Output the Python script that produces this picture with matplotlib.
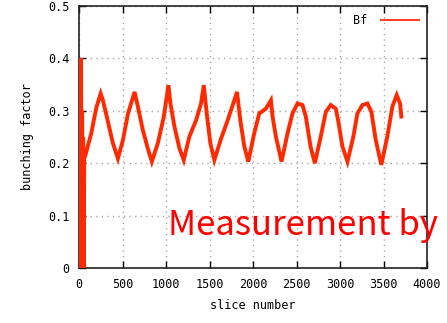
import matplotlib
matplotlib.use("Agg")
import matplotlib.pyplot as plt

# --- data ---
slice_no = [0, 6, 12, 18, 24, 30, 36, 42, 48, 54, 60, 70,
            141, 199, 249, 275, 333, 390, 447,
            505, 562, 639, 669, 734, 791, 837,
            906, 975, 1028, 1051, 1097, 1155, 1204,
            1269, 1346, 1403, 1434, 1472, 1510, 1556,
            1633, 1709, 1767, 1816, 1854, 1900, 1946,
            2014, 2072, 2148, 2206, 2225, 2263, 2328,
            2397, 2454, 2512, 2569, 2607, 2661, 2711,
            2779, 2837, 2894, 2952, 2978, 3028, 3086,
            3154, 3200, 3258, 3315, 3361, 3411, 3475,
            3544, 3602, 3652, 3690, 3705]
bunching = [0.37, 0.0, 0.35, 0.0, 0.40, 0.0, 0.30, 0.0, 0.25, 0.0, 0.21, 0.213,
            0.257, 0.306, 0.333, 0.320, 0.279, 0.238, 0.209,
            0.244, 0.294, 0.336, 0.314, 0.263, 0.228, 0.203,
            0.238, 0.289, 0.349, 0.314, 0.270, 0.228, 0.206,
            0.251, 0.282, 0.314, 0.349, 0.289, 0.238, 0.206,
            0.247, 0.282, 0.311, 0.336, 0.282, 0.232, 0.203,
            0.257, 0.295, 0.304, 0.320, 0.289, 0.251, 0.203,
            0.257, 0.295, 0.314, 0.311, 0.289, 0.232, 0.200,
            0.251, 0.298, 0.311, 0.304, 0.282, 0.232, 0.203,
            0.251, 0.295, 0.311, 0.314, 0.298, 0.244, 0.197,
            0.251, 0.308, 0.330, 0.314, 0.289]
x_ticks = [0, 500, 1000, 1500, 2000, 2500, 3000, 3500, 4000]
y_ticks = [0, 0.1, 0.2, 0.3, 0.4, 0.5]
y_tick_labels = ["0", "0.1", "0.2", "0.3", "0.4", "0.5"]
series_name = "Bf"
x_label = "slice number"
y_label = "bunching factor"
overlay_text = "Measurement by"

RED = "#ff2a00"
mono = "DejaVu Sans Mono"

fig = plt.figure(figsize=(4.47, 3.23), dpi=100)
ax = fig.add_axes([79 / 447, 55 / 323, 348 / 447, 262 / 323])

ax.plot(slice_no, bunching, color=RED, lw=2.8, solid_joinstyle="miter",
        label=series_name, zorder=3)

ax.set_xlim(0, 4000)
ax.set_ylim(0, 0.5)
ax.set_xticks(x_ticks)
ax.set_yticks(y_ticks)
ax.set_yticklabels(y_tick_labels)
ax.tick_params(direction="in", length=5, width=1, top=True, right=True,
               labelsize=8.5, pad=7)
for lab in ax.get_xticklabels() + ax.get_yticklabels():
    lab.set_fontfamily(mono)
ax.grid(True, color="#a8a8a8", linestyle=(0, (1, 3)), linewidth=1)
for s in ax.spines.values():
    s.set_linewidth(1.2)
    s.set_color("#222222")

ax.set_xlabel(x_label, fontfamily=mono, fontsize=8.5, labelpad=6)
ax.set_ylabel(y_label, fontfamily=mono, fontsize=8.5, labelpad=10)

leg = ax.legend(loc="upper right", frameon=False, prop={"family": mono, "size": 8.5},
                handlelength=3.2, markerfirst=False, borderaxespad=0.3,
                handletextpad=1.2)
for h in leg.get_lines():
    h.set_linewidth(1.5)
    h.set_color("#ff4030")

fig.text(168 / 447, (323 - 235) / 323, overlay_text, color="#ff0000",
         fontsize=25, family=["Noto Sans CJK JP", "DejaVu Sans"],
         ha="left", va="baseline", zorder=5)

fig.savefig("out.png", dpi=100)
